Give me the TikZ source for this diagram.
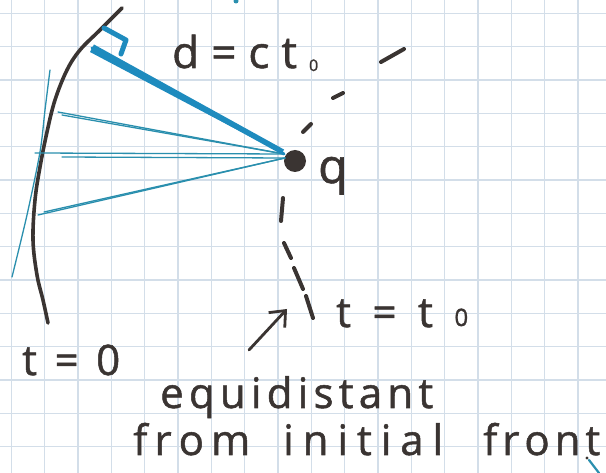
\documentclass[tikz,border=0pt]{standalone}
\usepackage{fontspec}
\setmainfont{Open Sans}
\newfontfamily\handfont{Open Sans}[FakeBold=1.2]
\usetikzlibrary{arrows.meta}
\definecolor{ink}{HTML}{3A3432}
\definecolor{tealthick}{HTML}{1E8BBE}
\definecolor{tealthin}{HTML}{2A8FAE}
\definecolor{gridc}{HTML}{D3DEE9}
\tikzset{
  gridline/.style={draw=gridc, line width=1.3pt},
  inkline/.style={draw=ink, line width=3.6pt, line cap=round, line join=round},
  inkdash/.style={draw=ink, line width=4pt, line cap=round},
  thinteal/.style={draw=tealthin, line width=1.3pt, line cap=round},
  thickteal/.style={draw=tealthick, line width=5pt, line cap=round, line join=round},
  hand/.style={inner sep=0pt, anchor=base west, text=ink, font=\handfont\fontsize{42}{42}\selectfont},
}
\begin{document}
\begin{tikzpicture}[x=1pt,y=-1pt]
\fill[white] (0,0) rectangle (606,473);
\useasboundingbox (0,0) rectangle (606,473);
% graph paper
\foreach \i in {0,...,17} \draw[gridline] ({11.3+33.33*\i},0) -- ({11.3+33.33*\i},473);
\foreach \j in {0,...,13} \draw[gridline] (0,{13.3+33.33*\j}) -- (606,{13.3+33.33*\j});

% initial front t=0
\draw[inkline] plot[smooth, tension=0.6] coordinates {(122,8) (100,30) (80,50) (67,70) (55,100) (47,132) (40,167) (35,200) (33,240) (37,275) (43,300) (48,323)};
% thin tangent line
\draw[thinteal] plot[smooth] coordinates {(50,70) (45,110) (40,152) (27,215) (12,277)};

% point q
\node[circle, fill=ink, minimum size=22pt, inner sep=0pt] (q) at (295,161) {};
\coordinate (qa) at (284,154);
\coordinate (qb) at (285,158);
\coordinate (f1) at (58,112);
\coordinate (f1b) at (62,115);
\coordinate (f2) at (35,153);
\coordinate (f2b) at (62,157);
\coordinate (f3) at (38,215);
\coordinate (f3b) at (44,212);
\coordinate (foot) at (92,48);

\draw[thinteal] (f1) -- (qa);
\draw[thinteal] (f1b) -- (qa);
\draw[thinteal] (f2) -- (qa);
\draw[thinteal] (f2b) -- (qb);
\draw[thinteal] (f3) -- (qb);
\draw[thinteal] (f3b) -- (qb);

% thick perpendicular
\fill[tealthick] (90,52) -- (94,44.5) -- (284,149.5) -- (282,153.5) -- cycle;
\draw[thickteal, line width=3pt] (foot) -- (qa);
% right angle marker
\draw[thickteal] (104,28) -- (126,40) -- (121,54);

% front t = t0 (dashed)
\draw[inkdash] (381,62) -- (404,49);
\draw[inkdash] (333,98) -- (343,93);
\draw[inkdash] (303,132) -- (311,124);
\draw[inkdash] (283,198) -- (281,221);
\draw[inkdash] (284,243) -- (291,258);
\draw[inkdash] (294,268) -- (303,289);
\draw[inkdash] (306,296) -- (313,318);

% arrow
\coordinate (arrS) at (249,350);
\coordinate (arrE) at (287,309);
\draw[inkline, line width=2.8pt, -{Straight Barb[length=13pt,width=22pt,line width=2.8pt]}] (arrS) -- (arrE);

% small marks
\draw[thinteal, line width=2.2pt] (589,460) -- (599,473);
\fill[ink] (587,458) circle (1.6);
\fill[tealthin] (236,1) circle (2.5);

% labels
\node[hand, font=\handfont\fontsize{44}{44}\selectfont] (dlabel) at (172,68) {\makebox[146pt][s]{d\hfil=\hfil c\hfil t\hfil\raisebox{-3pt}{\fontsize{16}{16}\selectfont 0}}};
\node[hand, font=\handfont\fontsize{48}{48}\selectfont] (qlabel) at (318,183) {q};
\node[hand] (t0label) at (336,327) {\makebox[132pt][s]{t\hfil=\hfil t\hfil\raisebox{1pt}{\fontsize{24}{24}\selectfont 0}}};
\node[hand] (tzero) at (22,375) {\makebox[98pt][s]{t\hfil=\hfil 0}};
\node[hand] (eqlabel) at (160,408) {\makebox[273pt][s]{e\hfil q\hfil u\hfil i\hfil d\hfil i\hfil s\hfil t\hfil a\hfil n\hfil t}};
\node[hand] (fromlabel) at (133,455) {\makebox[117pt][s]{f\hfil r\hfil o\hfil m}\hspace{33pt}\makebox[160pt][s]{i\hfil n\hfil i\hfil t\hfil i\hfil a\hfil l}\hspace{40pt}\makebox[117pt][s]{f\hfil r\hfil o\hfil n\hfil t}};
\end{tikzpicture}
\end{document}
